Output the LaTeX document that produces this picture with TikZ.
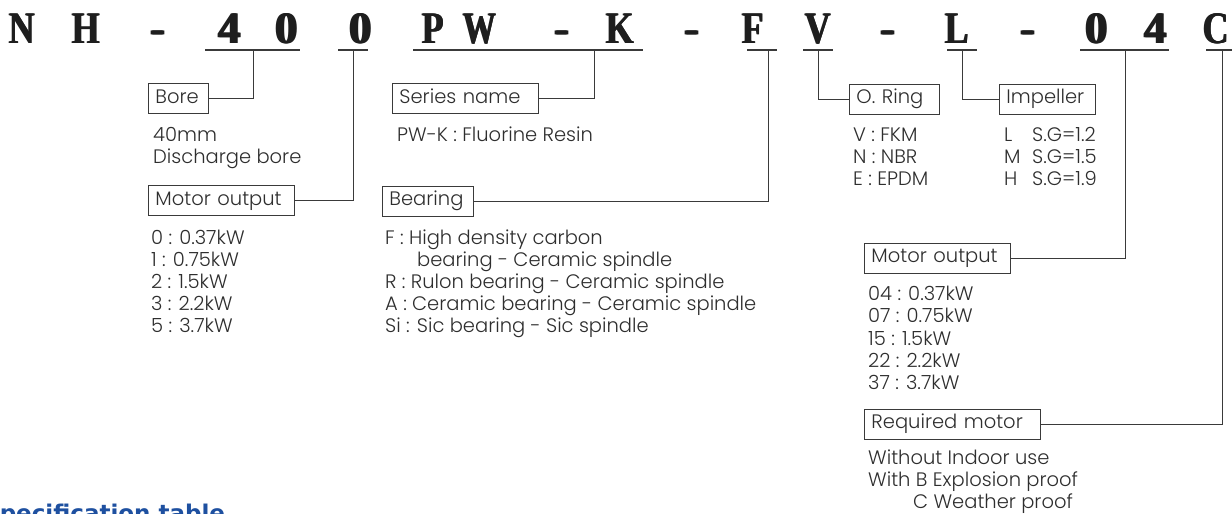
\documentclass[tikz,border=0pt]{standalone}
\usepackage{fontspec}
\newfontfamily\pop{Poppins Light}
\newfontfamily\bigf{Liberation Serif}
\newfontfamily\specf{DejaVu Sans}
\definecolor{ink}{HTML}{1E1E1E}
\definecolor{txtc}{HTML}{2E2E2E}
\definecolor{linec}{HTML}{3A3A3A}
\definecolor{specblue}{HTML}{1E50A0}
\newcommand\fat[1]{\rlap{\kern-0.8pt #1}\rlap{\kern0.8pt #1}#1}
\newcommand\nar[2][0.8]{\scalebox{#1}[1]{\fat{#2}}}
\begin{document}
\begin{tikzpicture}[x=1pt,y=-1pt,
  big/.style={anchor=base, inner sep=0pt, text=ink, font=\bigf\bfseries\fontsize{45}{45}\selectfont},
  uline/.style={draw=linec, line width=1.2pt},
  conn/.style={draw=linec, line width=0.9pt},
  box/.style={draw=linec, line width=0.9pt, anchor=west, inner xsep=7pt, inner ysep=0pt,
     minimum height=30pt, text width=#1, align=left, text height=13pt, text depth=4pt,
     font=\pop\fontsize{19.5}{22}\selectfont, text=txtc},
  txt/.style={anchor=base west, inner sep=0pt, font=\pop\fontsize{19.5}{22}\selectfont, text=txtc}]
\useasboundingbox (0,0) rectangle (1232,514);
% code letters
\node[big] (cN) at (22,43) {\nar{N}};
\node[big] (cH) at (86,43) {\nar{H}};
\node[big] (d1) at (158,43) {\fat{-}};
\node[big] (c4) at (230,43) {\fat{4}};
\node[big] (c0a) at (287,43) {\fat{0}};
\node[big] (c0b) at (361,43) {\fat{0}};
\node[big] (cP) at (433,43) {\nar{P}};
\node[big] (cW) at (480,43) {\nar[0.74]{W}};
\node[big] (d2) at (562,43) {\fat{-}};
\node[big] (cK) at (620,43) {\nar{K}};
\node[big] (d3) at (692,43) {\fat{-}};
\node[big] (cF) at (753,43) {\nar{F}};
\node[big] (cV) at (818,43) {\nar{V}};
\node[big] (d4) at (888,43) {\fat{-}};
\node[big] (cL) at (957,43) {\nar{L}};
\node[big] (d5) at (1028,43) {\fat{-}};
\node[big] (c0c) at (1097,43) {\fat{0}};
\node[big] (c4b) at (1156,43) {\fat{4}};
\node[big] (cC) at (1216,43) {\nar{C}};
% underlines
\draw[uline] (205,50) -- (300,50);
\draw[uline] (338,50) -- (368,50);
\draw[uline] (413,50) -- (643,50);
\draw[uline] (747,50) -- (777,50);
\draw[uline] (803,50) -- (833,50);
\draw[uline] (947,50) -- (977,50);
\draw[uline] (1080,50) -- (1169,50);
\draw[uline] (1206,50) -- (1232,50);
\coordinate (k40) at (253,50);
\coordinate (k0) at (353,50);
\coordinate (kPWK) at (594,50);
\coordinate (kF) at (768,50);
\coordinate (kV) at (818,50);
\coordinate (kL) at (962,50);
\coordinate (k04) at (1125,50);
\coordinate (kC) at (1222,50);
% boxes
\node[box=46pt] (bore) at (148,98.5) {Bore};
\node[box=132pt] (series) at (392,98.5) {Series name};
\node[box=76pt] (oring) at (849,99) {O. Ring};
\node[box=82pt] (imp) at (999,99) {Impeller};
\node[box=132pt] (mo1) at (148,200.5) {Motor output};
\node[box=77pt] (bear) at (382,201) {Bearing};
\node[box=132pt] (mo2) at (864,258) {Motor output};
\node[box=162pt] (req) at (864,424) {Required motor};
% connectors
\draw[conn] (k40) -- (k40 |- bore.east) -- (bore.east);
\draw[conn] (k0) -- (k0 |- mo1.east) -- (mo1.east);
\draw[conn] (kPWK) -- (kPWK |- series.east) -- (series.east);
\draw[conn] (kF) -- (kF |- bear.east) -- (bear.east);
\draw[conn] (kV) -- (kV |- oring.west) -- (oring.west);
\draw[conn] (kL) -- (kL |- imp.west) -- (imp.west);
\draw[conn] (k04) -- (k04 |- mo2.east) -- (mo2.east);
\draw[conn] (kC) -- (kC |- req.east) -- (req.east);
% texts
\node[txt] (t1) at (153,141) {40mm};
\node[txt] (t2) at (153,163) {Discharge bore};
\node[txt] (t3) at (397,141) {PW-K : Fluorine Resin};
\node[txt] (t4) at (853,141.5) {V : FKM};
\node[txt] (t5) at (853,163.5) {N : NBR};
\node[txt] (t6) at (853,185.5) {E : EPDM};
\node[txt] (t7) at (1004,141.5) {L};
\node[txt] (t8) at (1004,163.5) {M};
\node[txt] (t9) at (1004,185.5) {H};
\node[txt] (t10) at (1032,141.5) {S.G=1.2};
\node[txt] (t11) at (1032,163.5) {S.G=1.5};
\node[txt] (t12) at (1032,185.5) {S.G=1.9};
\node[txt] (m1) at (151,244) {0 : 0.37kW};
\node[txt] (m2) at (151,266) {1 : 0.75kW};
\node[txt] (m3) at (151,288) {2 : 1.5kW};
\node[txt] (m4) at (151,310) {3 : 2.2kW};
\node[txt] (m5) at (151,332) {5 : 3.7kW};
\node[txt] (b1) at (385,244) {F : High density carbon};
\node[txt] (b2) at (417,266) {bearing - Ceramic spindle};
\node[txt] (b3) at (385,288) {R : Rulon bearing - Ceramic spindle};
\node[txt] (b4) at (385,310) {A : Ceramic bearing - Ceramic spindle};
\node[txt] (b5) at (385,332) {Si : Sic bearing - Sic spindle};
\node[txt] (n1) at (868,300) {04 : 0.37kW};
\node[txt] (n2) at (868,322.5) {07 : 0.75kW};
\node[txt] (n3) at (868,345) {15 : 1.5kW};
\node[txt] (n4) at (868,367) {22 : 2.2kW};
\node[txt] (n5) at (868,389) {37 : 3.7kW};
\node[txt] (r1) at (868,464) {Without Indoor use};
\node[txt] (r2) at (868,486.5) {With B Explosion proof};
\node[txt] (r3) at (913,508.5) {C Weather proof};
\begin{scope}
\clip (0,0) rectangle (1232,514);
\node[anchor=base west, inner sep=0pt, text=specblue, font=\specf\bfseries\fontsize{23}{23}\selectfont] (spec) at (-17,521) {Specification table};
\end{scope}
\end{tikzpicture}
\end{document}
